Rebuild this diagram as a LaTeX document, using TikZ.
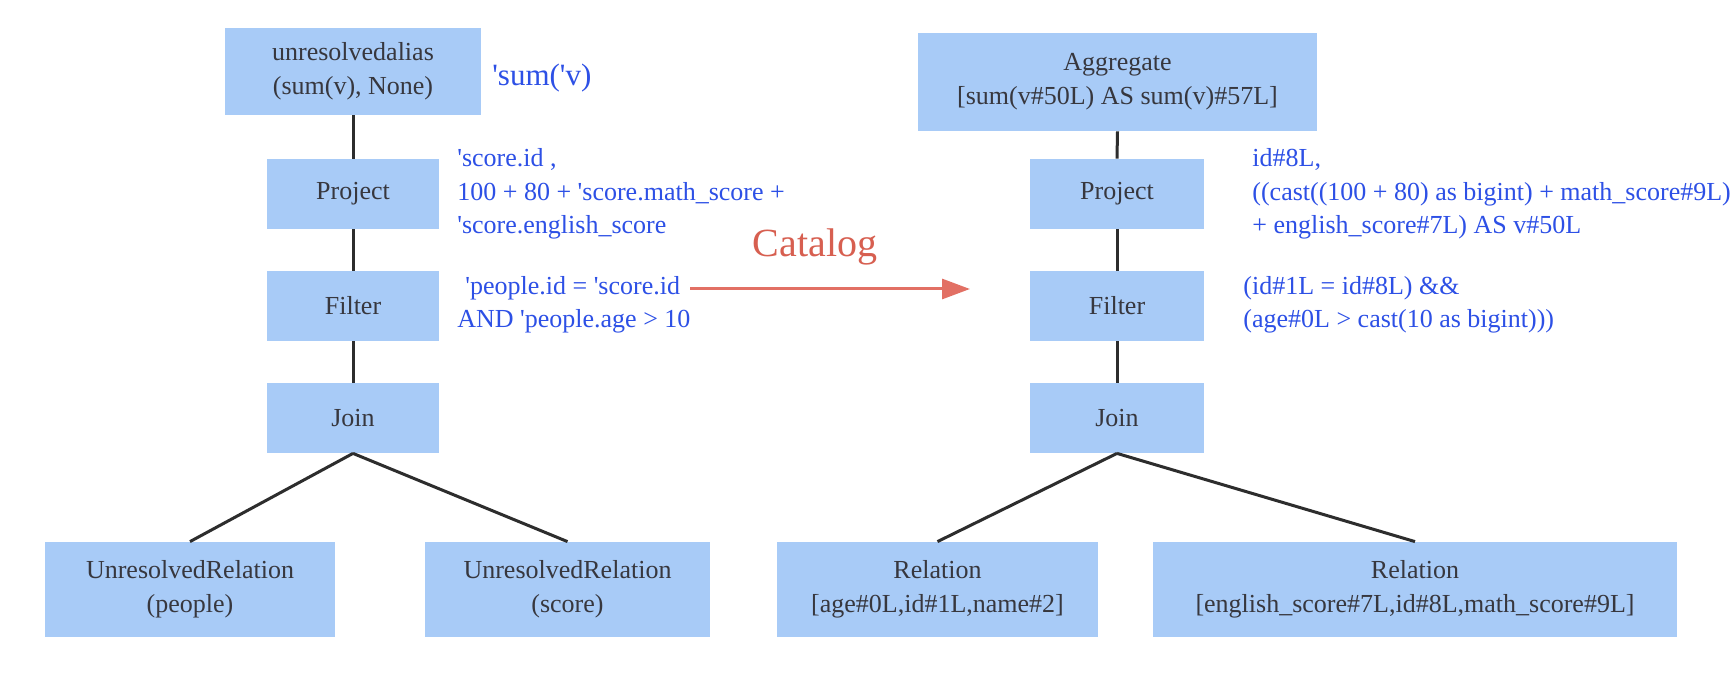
\documentclass[tikz,border=0pt]{standalone}
\usepackage{fontspec}
\setmainfont{Liberation Serif}
\newcommand{\sq}{\textquotesingle}
\usetikzlibrary{arrows.meta}
\definecolor{boxfill}{RGB}{168,203,247}
\definecolor{boxtext}{RGB}{55,55,62}
\definecolor{annoblue}{RGB}{45,80,230}
\definecolor{catred}{RGB}{215,95,80}
\definecolor{arrred}{RGB}{226,112,100}
\definecolor{edgegray}{RGB}{45,45,45}
\begin{document}
\begin{tikzpicture}[x=0.5pt,y=-0.5pt,
  opbox/.style={rectangle, fill=boxfill, text=boxtext, align=center, inner sep=0pt, font=\fontsize{13}{17}\selectfont},
  smallbox/.style={opbox, minimum height=35pt},
  leafbox/.style={opbox, minimum height=47.5pt},
  annot/.style={text=annoblue, align=left, anchor=west, inner sep=0pt, font=\fontsize{13}{16.75}\selectfont},
  link/.style={draw=edgegray, line width=1.5pt}]
\useasboundingbox[fill=white] (0,0) rectangle (1730,678);

% left tree
\node[opbox, minimum width=128pt, minimum height=43.5pt] (ua) at (353,71.5) {unresolvedalias\\(sum(v), None)};
\node[smallbox, minimum width=86pt] (lproj) at (353,194) {Project};
\node[smallbox, minimum width=86pt] (lfilt) at (353,306) {Filter};
\node[smallbox, minimum width=86pt] (ljoin) at (353,418) {Join};
\node[leafbox, minimum width=145pt] (urp) at (190,589.5) {UnresolvedRelation\\(people)};
\node[leafbox, minimum width=142.5pt] (urs) at (567.5,589.5) {UnresolvedRelation\\(score)};

% right tree
\node[opbox, minimum width=199.5pt, minimum height=49pt] (agg) at (1117.5,82) {Aggregate\\{}[sum(v\#50L) AS sum(v)\#57L]};
\node[smallbox, minimum width=87pt] (rproj) at (1117,194) {Project};
\node[smallbox, minimum width=87pt] (rfilt) at (1117,306) {Filter};
\node[smallbox, minimum width=87pt] (rjoin) at (1117,418) {Join};
\node[leafbox, minimum width=160.5pt] (rel1) at (937.5,589.5) {Relation\\{}[age\#0L,id\#1L,name\#2]};
\node[leafbox, minimum width=262pt] (rel2) at (1415,589.5) {Relation\\{}[english\_score\#7L,id\#8L,math\_score\#9L]};

% links
\draw[link] (ua) -- (lproj);
\draw[link] (lproj) -- (lfilt);
\draw[link] (lfilt) -- (ljoin);
\draw[link] (ljoin.south) -- (urp.north);
\draw[link] (ljoin.south) -- (urs.north);
\draw[link] (agg.south) -- (rproj.north);
\draw[link] (rproj) -- (rfilt);
\draw[link] (rfilt) -- (rjoin);
\draw[link] (rjoin.south) -- (rel1.north);
\draw[link] (rjoin.south) -- (rel2.north);

% annotations
\node[annot, font=\fontsize{15.5}{18}\selectfont] (sumv) at (492,78) {\sq sum(\sq v)};
\node[annot] (lprojt) at (457,194) {\sq score.id ,\\100 + 80 + \sq score.math\_score +\\\sq score.english\_score};
\node[annot] (lfiltt) at (457,305) {\hspace{4pt}\sq people.id = \sq score.id\\AND \sq people.age > 10};
\node[annot] (rprojt) at (1252,194) {id\#8L,\\((cast((100 + 80) as bigint) + math\_score\#9L)\\+ english\_score\#7L) AS v\#50L};
\node[annot] (rfiltt) at (1243,305) {(id\#1L = id\#8L) \&\&\\(age\#0L > cast(10 as bigint)))};

% catalog arrow
\node[text=catred, inner sep=0pt, font=\fontsize{20}{24}\selectfont] (cat) at (815,247) {Catalog};
\coordinate (arrS) at (690,289);
\coordinate (arrE) at (970,289);
\draw[draw=arrred, fill=arrred, line width=1.5pt, -{Triangle[length=14pt,width=10pt]}] (arrS) -- (arrE);
\end{tikzpicture}
\end{document}
